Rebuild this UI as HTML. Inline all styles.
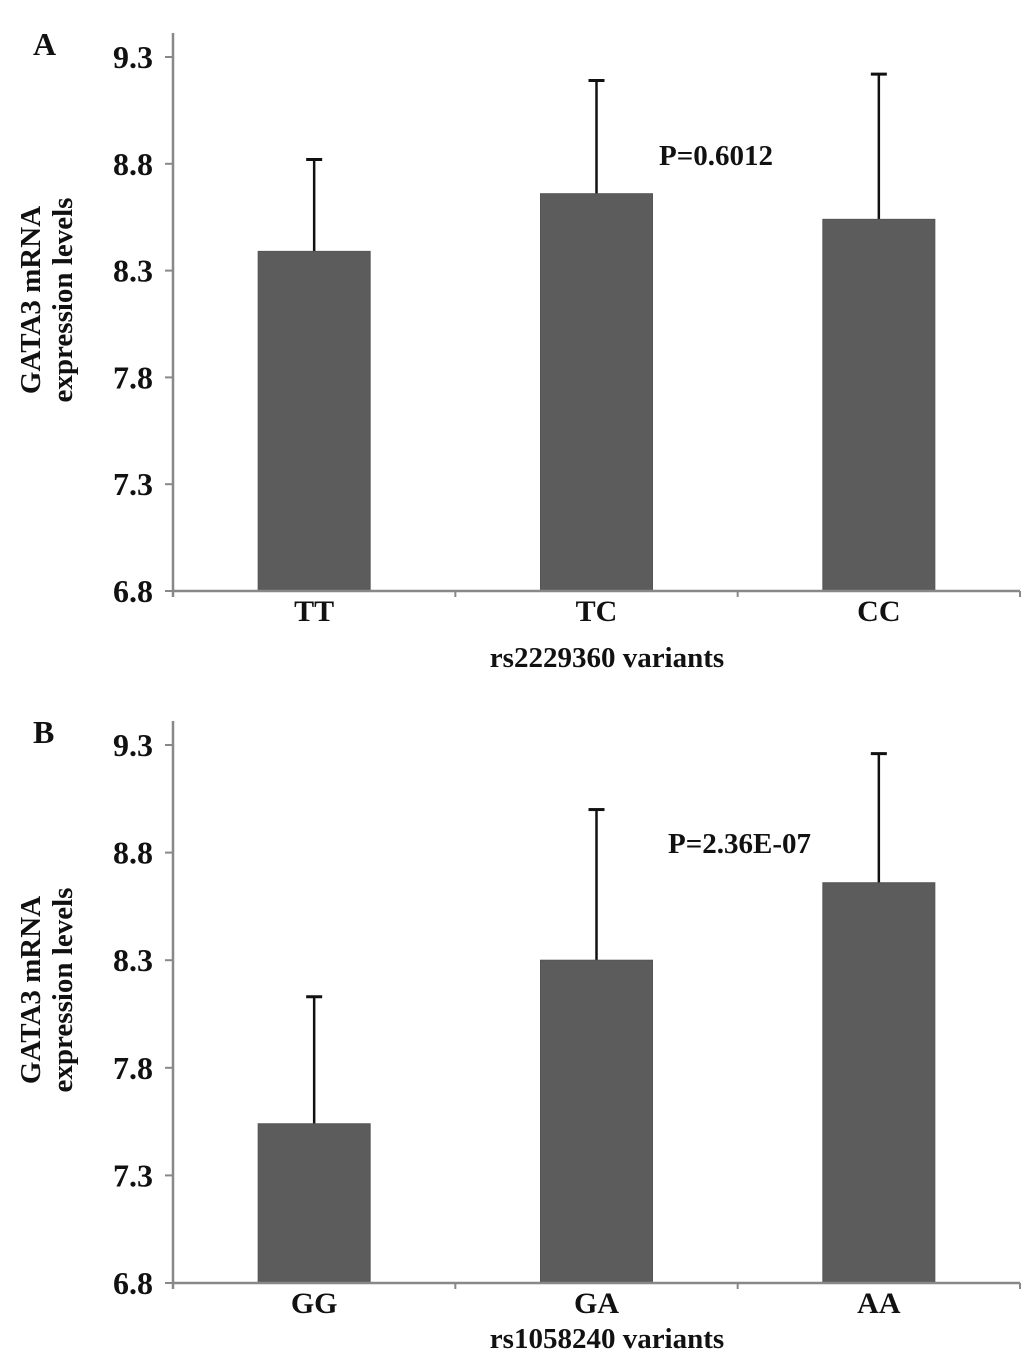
<!DOCTYPE html>
<html><head><meta charset="utf-8"><style>
body{margin:0;background:#fff}
svg{display:block}
text{font-family:"Liberation Serif",serif;font-weight:bold;fill:#111}
</style></head><body>
<svg id="chart" width="1033" height="1360" viewBox="0 0 1033 1360" xmlns="http://www.w3.org/2000/svg"></svg>
<script>
const categoriesA = ["TT","TC","CC"];
const meansA = [8.39, 8.66, 8.54];
const errTopA = [8.82, 9.19, 9.22];
const categoriesB = ["GG","GA","AA"];
const meansB = [7.54, 8.30, 8.66];
const errTopB = [8.13, 9.00, 9.26];
const tickLabels = ["6.8","7.3","7.8","8.3","8.8","9.3"];
const tickValues = [6.8,7.3,7.8,8.3,8.8,9.3];

const svg = document.getElementById('chart');
const NS = 'http://www.w3.org/2000/svg';
function mk(tag, attrs, parent){const e=document.createElementNS(NS,tag);for(const k in attrs)e.setAttribute(k,attrs[k]);(parent||svg).appendChild(e);return e;}

function panel(letter, top0, bottom, cats, means, errs, pText, pX, pY, xTitle, xTitleOff, id){
  const g = mk('g',{});
  
  
  const axX = 173, axR = 1020;
  const y = v => bottom - (v - 6.8) / 2.5 * (bottom - top0);
  const slot = (axR - axX) / cats.length;
  const x = i => axX + slot * i + slot / 2;
  const lt = mk('text',{x:33,y:top0-2,'font-size':32},g); lt.textContent=letter;
  
  
  cats.forEach((c,i)=>{
    const cx = x(i);
    const eb = mk('g',{},g);
    
    
    mk('line',{x1:cx,x2:cx,y1:y(errs[i]),y2:y(means[i]),stroke:'#111','stroke-width':2.5},eb);
    mk('line',{x1:cx-8,x2:cx+8,y1:y(errs[i]),y2:y(errs[i]),stroke:'#111','stroke-width':3},eb);
    const r = mk('rect',{x:cx-56,y:y(means[i]),width:112,height:bottom-y(means[i]),fill:'#5c5c5c',stroke:'#555','stroke-width':1},g);
    
    
    const t = mk('text',{x:cx,y:bottom+30,'font-size':30,'text-anchor':'middle'},g); t.textContent=c;
    
    
  });
  const ya = mk('line',{x1:axX,x2:axX,y1:top0-24,y2:bottom+6,stroke:'#888','stroke-width':2.5},g);
  
  
  const xa = mk('line',{x1:axX,x2:axR,y1:bottom,y2:bottom,stroke:'#888','stroke-width':2.5},g);
  
  
  for(let i=1;i<=cats.length;i++){
    mk('line',{x1:axX+slot*i,x2:axX+slot*i,y1:bottom,y2:bottom+6,stroke:'#888','stroke-width':2},g);
  }
  tickValues.forEach((v,i)=>{
    mk('line',{x1:axX-8,x2:axX,y1:y(v),y2:y(v),stroke:'#888','stroke-width':2},g);
    const t = mk('text',{x:153,y:y(v)+11,'font-size':32,'text-anchor':'end'},g); t.textContent=tickLabels[i];
    
    
  });
  const xt = mk('text',{x:607,y:bottom+xTitleOff,'font-size':29,'text-anchor':'middle'},g); xt.textContent=xTitle;
  
  
  const cy = (top0+bottom)/2 - 24;
  const yt = mk('text',{transform:`translate(44 ${cy}) rotate(-90)`,'font-size':29,'text-anchor':'middle'},g);
  
  
  const s1 = mk('tspan',{x:0,y:-4},yt); s1.textContent='GATA3 mRNA';
  const s2 = mk('tspan',{x:0,y:28},yt); s2.textContent='expression levels';
  const pt = mk('text',{x:pX,y:pY,'font-size':29},g); pt.textContent=pText;
  
  
}
panel('A', 57, 591, categoriesA, meansA, errTopA, 'P=0.6012', 659, 165, 'rs2229360 variants', 76, 'a');
panel('B', 745, 1283, categoriesB, meansB, errTopB, 'P=2.36E-07', 668, 853, 'rs1058240 variants', 65, 'b');
</script>
</body></html>
